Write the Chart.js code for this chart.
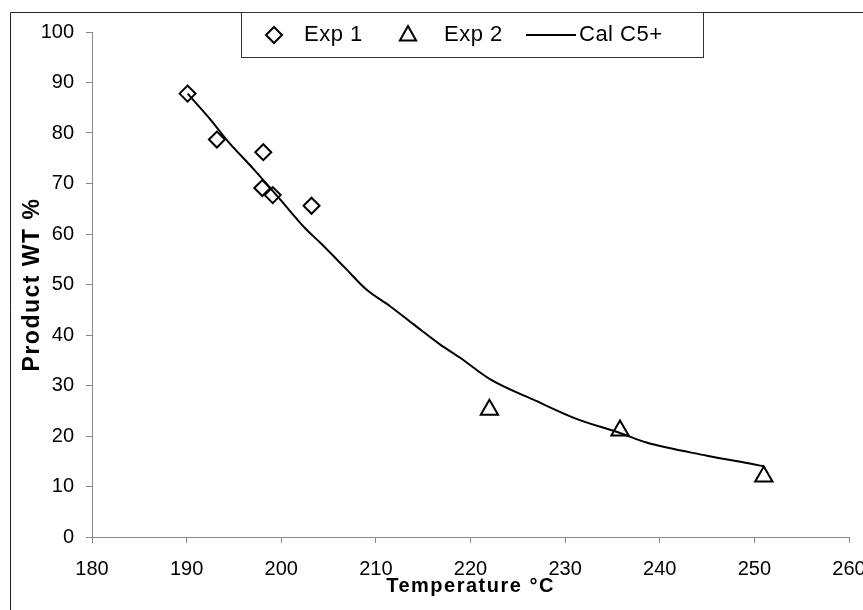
<!DOCTYPE html>
<html><head><meta charset="utf-8">
<script src="https://cdn.jsdelivr.net/npm/chart.js@4.4.1/dist/chart.umd.min.js"></script>
<style>html,body{margin:0;padding:0;background:#fff}#wrap{width:863px;height:610px;position:relative}canvas{display:block}</style>
</head><body><div id="wrap"><canvas id="c" width="863" height="610"></canvas></div>
<script>
// ---- data ----
const exp1Temp = [190.1, 193.2, 198.1, 198.0, 199.1, 203.2];
const exp1Wt   = [87.8, 78.7, 76.2, 69.1, 67.7, 65.6];
const exp2Temp = [222.0, 235.8, 251.0];
const exp2Wt   = [25.2, 21.1, 12.0];
const calTemp  = [190.1, 192.5, 194.2, 197.1, 199.9, 202.5, 204.1, 206.9, 209.0, 211.5, 214.0, 216.8, 218.9, 222.1, 227.0, 231.2, 235.8, 238.6, 245.0, 249.9, 251.0];
const calWt    = [87.8, 82.7, 78.7, 72.8, 66.8, 61.2, 58.3, 53.0, 49.0, 45.7, 42.1, 38.1, 35.5, 31.2, 26.9, 23.4, 20.6, 18.7, 16.1, 14.4, 14.0];
const xTicks = [180, 190, 200, 210, 220, 230, 240, 250, 260];
const yTicks = [0, 10, 20, 30, 40, 50, 60, 70, 80, 90, 100];
const seriesNames = ['Exp 1', 'Exp 2', 'Cal C5+'];
const xTitle = 'Temperature °C';
const yTitle = 'Product WT %';

const pts = (xs, ys) => xs.map((x, i) => ({x, y: ys[i]}));
const FONT = '"Liberation Sans", Arial, sans-serif';

const framePlugin = {
  id: 'frame',
  afterUpdate(chart) {
    // slightly wider letter spacing for the axis titles, as in the scanned original
    const spacing = {x: '1.5px', y: '1.5px'};
    for (const id of ['x', 'y']) {
      const sc = chart.scales[id];
      if (!sc || sc._patchedTitle) continue;
      const orig = Object.getPrototypeOf(sc).drawTitle;
      sc.drawTitle = function () {
        const ctx = this.ctx;
        ctx.save();
        ctx.letterSpacing = spacing[id];
        orig.call(this);
        ctx.restore();
      };
      sc._patchedTitle = true;
    }
  },
  beforeDraw(chart) {
    const ctx = chart.ctx;
    ctx.save();
    ctx.strokeStyle = '#222';
    ctx.lineWidth = 1;
    ctx.beginPath();
    ctx.moveTo(10.5, 610); ctx.lineTo(10.5, 12.5); ctx.lineTo(863, 12.5);
    ctx.stroke();
    ctx.restore();
  },
  afterDraw(chart) {
    const ctx = chart.ctx;
    ctx.save();
    // legend box
    const bx = 241.5, by = 12.5, bw = 462, bh = 45;
    ctx.fillStyle = '#fff';
    ctx.fillRect(bx, by, bw, bh);
    ctx.strokeStyle = '#333';
    ctx.lineWidth = 1;
    ctx.strokeRect(bx, by, bw, bh);
    const cy = 35;
    ctx.strokeStyle = '#000';
    ctx.lineWidth = 2;
    // diamond
    const dx = 274, r = 8;
    ctx.beginPath();
    ctx.moveTo(dx, cy - r); ctx.lineTo(dx + r, cy); ctx.lineTo(dx, cy + r); ctx.lineTo(dx - r, cy); ctx.closePath();
    ctx.stroke();
    // triangle
    const tx = 408, tr = 9;
    ctx.beginPath();
    ctx.moveTo(tx, cy - tr); ctx.lineTo(tx + tr * 0.9, cy + tr * 0.6); ctx.lineTo(tx - tr * 0.9, cy + tr * 0.6); ctx.closePath();
    ctx.stroke();
    // line sample
    ctx.beginPath(); ctx.moveTo(526, cy); ctx.lineTo(576, cy); ctx.stroke();
    ctx.fillStyle = '#000';
    ctx.font = '22px ' + FONT;
    ctx.letterSpacing = '0.5px';
    ctx.textBaseline = 'middle';
    ctx.textAlign = 'left';
    ctx.fillText(seriesNames[0], 304, cy);
    ctx.fillText(seriesNames[1], 444, cy);
    ctx.fillText(seriesNames[2], 579, cy);
    ctx.restore();
  }
};

new Chart(document.getElementById('c'), {
  data: {
    datasets: [
      {type: 'scatter', label: seriesNames[0], data: pts(exp1Temp, exp1Wt), pointStyle: 'rectRot', pointRadius: 8, pointBorderWidth: 2, borderColor: '#000', backgroundColor: 'rgba(0,0,0,0)', order: 1},
      {type: 'scatter', label: seriesNames[1], data: pts(exp2Temp, exp2Wt), pointStyle: 'triangle', pointRadius: 10, pointBorderWidth: 2, borderColor: '#000', backgroundColor: 'rgba(0,0,0,0)', order: 2},
      {type: 'line', label: seriesNames[2], data: pts(calTemp, calWt), showLine: true, pointRadius: 0, borderWidth: 2, borderColor: '#000', backgroundColor: '#000', tension: 0.3, cubicInterpolationMode: 'monotone', order: 3}
    ]
  },
  options: {
    responsive: false,
    devicePixelRatio: 1,
    animation: false,
    layout: {padding: {top: 32, right: 14, left: 0, bottom: 0}},
    plugins: {legend: {display: false}, tooltip: {enabled: false}},
    scales: {
      x: {
        type: 'linear', position: 'bottom', min: 180, max: 260,
        afterBuildTicks: s => { s.ticks = xTicks.map(v => ({value: v})); },
        afterFit: s => { s.height = 73; s.paddingLeft = 0; s.paddingRight = 0; },
        ticks: {color: '#000', font: {family: FONT, size: 20}, padding: 14, maxRotation: 0, autoSkip: false},
        grid: {display: true, drawOnChartArea: false, drawTicks: true, tickLength: 6, color: '#888', tickColor: '#888'},
        border: {display: true, color: '#888', width: 1},
        title: {display: true, text: xTitle, color: '#000', font: {family: FONT, size: 20, weight: 'bold'}, padding: {top: 0, bottom: 12}}
      },
      y: {
        type: 'linear', position: 'left', min: 0, max: 100,
        afterBuildTicks: s => { s.ticks = yTicks.map(v => ({value: v})); },
        afterFit: s => { s.width = 92; },
        ticks: {color: '#000', font: {family: FONT, size: 20}, padding: 12},
        grid: {display: true, drawOnChartArea: false, drawTicks: true, tickLength: 6, color: '#888', tickColor: '#888'},
        border: {display: true, color: '#888', width: 1},
        title: {display: true, text: yTitle, color: '#000', font: {family: FONT, size: 23, weight: 'bold'}, padding: {top: 19, bottom: 0}}
      }
    }
  },
  plugins: [framePlugin]
});
</script></body></html>
